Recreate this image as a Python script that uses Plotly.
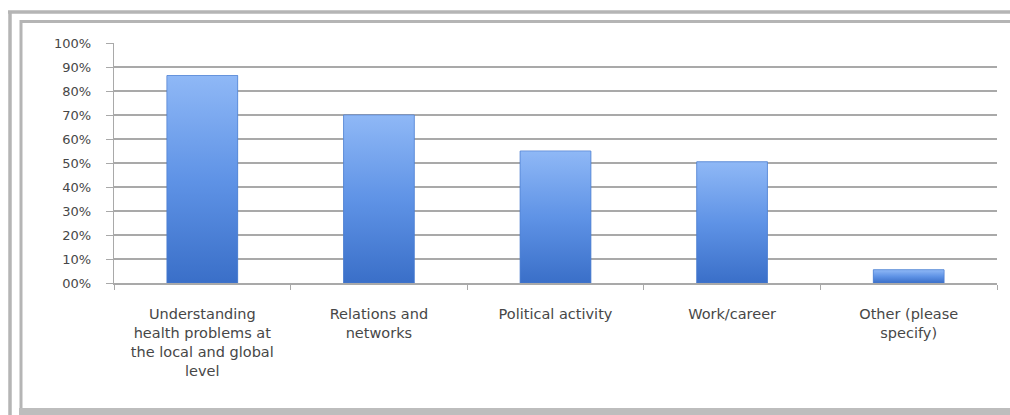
import plotly.graph_objects as go

# Survey results: share of respondents per area of benefit
categories = [
    "Understanding<br>health problems at<br>the local and global<br>level",
    "Relations and<br>networks",
    "Political activity",
    "Work/career",
    "Other (please<br>specify)",
]
values = [0.865, 0.70, 0.55, 0.505, 0.055]
y_tick_values = [0, 0.1, 0.2, 0.3, 0.4, 0.5, 0.6, 0.7, 0.8, 0.9, 1.0]
y_tick_labels = ["00%", "10%", "20%", "30%", "40%", "50%", "60%", "70%", "80%", "90%", "100%"]

W, H = 1010, 415
ML, MR, MT, MB = 114, 13, 43, 132
PW, PH = W - ML - MR, H - MT - MB
BAR_W = 0.40
GRID = "#a9a9a9"
TXT = "#474747"
FRAME = "#b5b5b5"


def px(x):
    return (x - ML) / PW


def py(y):
    return (H - MB - y) / PH


fig = go.Figure()
xs = list(range(len(categories)))

# base bars
fig.add_trace(go.Bar(
    x=xs, y=values, width=BAR_W,
    marker=dict(color="#5a8ee0", line=dict(color="#4a7acb", width=0.6)),
    hoverinfo="skip", showlegend=False,
))

# vertical gradient over each bar, dark at the base, light at the top
for x, v in zip(xs, values):
    fig.add_trace(go.Scatter(
        x=[x - BAR_W / 2, x + BAR_W / 2, x + BAR_W / 2, x - BAR_W / 2, x - BAR_W / 2],
        y=[0, 0, v, v, 0],
        mode="lines", line=dict(width=0.5, color="#4d7fd0"),
        fill="toself",
        fillgradient=dict(type="vertical",
                          colorscale=[[0, "#3a6fc8"], [0.5, "#5f93e6"], [1, "#8fb8f6"]]),
        hoverinfo="skip", showlegend=False,
    ))


def frame_line(x0, y0, x1, y1, width):
    return dict(type="line", xref="paper", yref="paper",
                x0=px(x0), x1=px(x1), y0=py(y0), y1=py(y1),
                line=dict(color=FRAME, width=width), layer="below")


shapes = [
    # outer frame
    frame_line(8, 12, 1010, 12, 3.5),
    frame_line(10, 11, 10, 415, 3.5),
    # inner frame
    frame_line(20, 21.5, 1010, 21.5, 3),
    frame_line(21, 20, 21, 410, 3),
    dict(type="rect", xref="paper", yref="paper",
         x0=px(19), x1=px(1010), y0=py(408), y1=py(416),
         line=dict(width=0), fillcolor="#bdbdbd", layer="below"),
]

fig.update_layout(
    width=W, height=H,
    margin=dict(l=ML, r=MR, t=MT, b=MB, pad=0),
    paper_bgcolor="white", plot_bgcolor="white",
    font=dict(family="DejaVu Sans", color=TXT),
    bargap=0.6,
    shapes=shapes,
    xaxis=dict(
        range=[-0.5, len(categories) - 0.5],
        tickmode="array", tickvals=xs, ticktext=categories,
        ticks="", showgrid=False, zeroline=False,
        showline=True, linecolor=GRID, linewidth=1.6,
        tickfont=dict(size=14.5, color=TXT),
        ticklabelstandoff=17,
        minor=dict(tick0=-0.5, dtick=1, ticks="outside", ticklen=5,
                   tickcolor=GRID, tickwidth=1, showgrid=False),
        fixedrange=True,
    ),
    yaxis=dict(
        range=[0, 1.0005],
        tickmode="array", tickvals=y_tick_values, ticktext=y_tick_labels,
        ticks="outside", ticklen=7, tickcolor=GRID, tickwidth=1.4,
        showgrid=True, gridcolor=GRID, gridwidth=1.6,
        zeroline=False, showline=True, linecolor=GRID, linewidth=1.4,
        tickfont=dict(size=13, color=TXT),
        ticklabelstandoff=12,
        fixedrange=True,
    ),
)

fig.write_html("out.html")
